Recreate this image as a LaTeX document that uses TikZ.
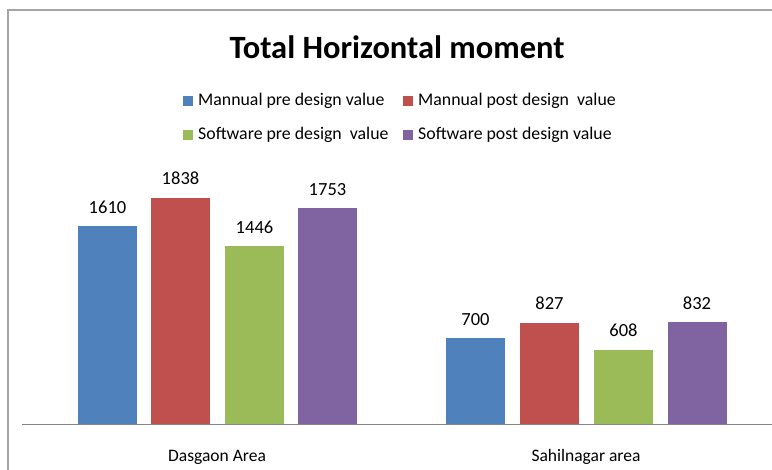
\documentclass[tikz,border=0pt]{standalone}
\usepackage{fontspec}
\setmainfont{Carlito}
\definecolor{cblue}{HTML}{4F81BD}
\definecolor{cred}{HTML}{C0504D}
\definecolor{cgreen}{HTML}{9BBB59}
\definecolor{cpurple}{HTML}{8064A2}
\definecolor{framegray}{HTML}{A6A6A6}
\definecolor{axisgray}{HTML}{868686}
\tikzset{
  barbox/.style={inner sep=0pt, outer sep=0pt, minimum width=59pt, anchor=south},
  vallabel/.style={font=\fontsize{18.5}{21}\selectfont, anchor=base, inner sep=0pt},
  legsq/.style={inner sep=0pt, minimum width=10pt, minimum height=10pt},
  legtext/.style={font=\fontsize{17.8}{20}\selectfont, anchor=base west, inner sep=0pt},
  catlabel/.style={font=\fontsize{17.5}{20}\selectfont, anchor=base, inner sep=0pt}
}
\begin{document}
\begin{tikzpicture}[x=1pt,y=1pt]
\useasboundingbox (0,0) rectangle (772,470);
\fill[white] (0,0) rectangle (772,470);
% frame
\draw[framegray, line width=2pt] (7.5,0) -- (7.5,459.5) -- (772,459.5);
% title
\node[font=\bfseries\fontsize{32.5}{36}\selectfont, anchor=base, inner sep=0pt] (title) at (397,411) {Total Horizontal moment};
% legend
\node[legsq, fill=cblue] (l1) at (188,368.5) {};
\node[legtext] (t1) at (198,364) {Mannual pre design value};
\node[legsq, fill=cred] (l2) at (408,368.5) {};
\node[legtext] (t2) at (418,364) {Mannual post design\ \ value};
\node[legsq, fill=cgreen] (l3) at (188,334.5) {};
\node[legtext] (t3) at (198,330) {Software pre design\ \ value};
\node[legsq, fill=cpurple] (l4) at (408,334.5) {};
\node[legtext] (t4) at (418,330) {Software post design value};
% bars group 1
\node[barbox, fill=cblue, minimum height=198.8pt] (b11) at (107.5,45) {};
\node[barbox, fill=cred, minimum height=227.0pt] (b12) at (180.5,45) {};
\node[barbox, fill=cgreen, minimum height=178.6pt] (b13) at (254.5,45) {};
\node[barbox, fill=cpurple, minimum height=216.5pt] (b14) at (327.5,45) {};
% bars group 2
\node[barbox, fill=cblue, minimum height=86.5pt] (b21) at (475.5,45) {};
\node[barbox, fill=cred, minimum height=102.1pt] (b22) at (549.5,45) {};
\node[barbox, fill=cgreen, minimum height=75.1pt] (b23) at (623.5,45) {};
\node[barbox, fill=cpurple, minimum height=102.8pt] (b24) at (697,45) {};
% value labels
\foreach \b/\v in {b11/1610,b12/1838,b13/1446,b14/1753,b21/700,b22/827,b23/608,b24/832}{
  \node[vallabel] (v\b) at ([yshift=13pt]\b.north) {\v};
}
% axis
\coordinate (axl) at (22,45);
\coordinate (axr) at (772,45);
\draw[axisgray, line width=1pt] (axl) -- (axr);
% category labels
\node[catlabel] (c1) at (217,8) {Dasgaon Area};
\node[catlabel] (c2) at (586,8) {Sahilnagar area};
\end{tikzpicture}
\end{document}
